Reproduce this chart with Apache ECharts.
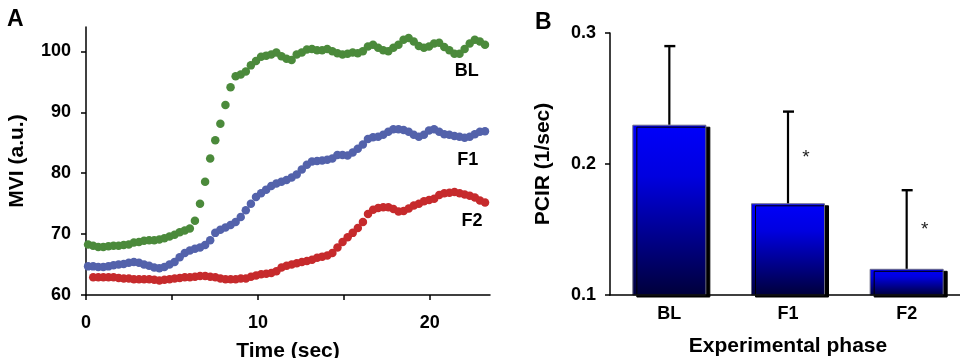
<!DOCTYPE html>
<html>
<head>
<meta charset="utf-8">
<script src="https://cdn.jsdelivr.net/npm/echarts@6/dist/echarts.min.js"></script>
<style>
  html, body { margin: 0; padding: 0; background: #fff; }
  #chart { width: 960px; height: 358px; }
</style>
</head>
<body>
<div id="chart"></div>
<script>
// ---- Panel A: microvascular intensity over time (one sample every ~0.296 s) ----
const sampleInterval = 0.296;
const startTimeBL = 0.12;
const startTimeF1 = 0.12;
const startTimeF2 = 0.42;

const mviBL = [
  68.3, 68.1, 67.9, 67.9, 68.0, 68.1, 68.1, 68.2, 68.3, 68.6,
  68.7, 68.9, 69.0, 69.0, 69.1, 69.3, 69.6, 69.9, 70.3, 70.6,
  70.9, 72.2, 75.0, 78.6, 82.4, 85.4, 88.1, 91.2, 94.1, 95.9,
  96.2, 96.7, 97.7, 98.4, 99.1, 99.3, 99.5, 99.8, 99.2, 98.8,
  98.6, 99.5, 99.8, 100.3, 100.4, 100.2, 100.2, 100.4, 100.0, 99.7,
  99.5, 99.6, 99.8, 99.7, 100.0, 100.8, 101.1, 100.6, 100.2, 100.0,
  100.6, 101.1, 101.9, 102.2, 101.6, 100.9, 100.6, 100.8, 101.3, 101.4,
  100.7, 100.2, 99.6, 99.6, 100.4, 101.3, 101.9, 101.6, 101.1
];
const mviF1 = [
  64.7, 64.7, 64.6, 64.6, 64.7, 64.9, 65.0, 65.1, 65.3, 65.4,
  65.3, 65.0, 64.8, 64.5, 64.4, 64.6, 65.0, 65.4, 66.2, 66.9,
  67.3, 67.6, 67.8, 68.2, 69.0, 70.2, 70.7, 71.1, 71.5, 72.0,
  72.8, 73.9, 75.0, 76.1, 76.7, 77.3, 77.9, 78.3, 78.6, 78.9,
  79.3, 79.8, 80.6, 81.4, 81.9, 82.0, 82.1, 82.2, 82.4, 83.0,
  83.0, 82.9, 83.4, 84.0, 84.7, 85.6, 85.9, 86.0, 86.3, 86.8,
  87.2, 87.2, 87.1, 86.8, 86.3, 86.0, 86.3, 87.0, 87.2, 86.8,
  86.4, 86.3, 86.1, 86.0, 85.8, 86.0, 86.4, 86.8, 86.9
];
const mviF2 = [
  62.9, 62.9, 62.9, 62.9, 62.9, 62.8, 62.7, 62.7, 62.6, 62.6,
  62.6, 62.6, 62.5, 62.4, 62.5, 62.6, 62.7, 62.8, 62.9, 62.9,
  63.0, 63.1, 63.1, 63.0, 62.9, 62.7, 62.6, 62.6, 62.6, 62.7,
  62.7, 63.0, 63.2, 63.4, 63.5, 63.6, 63.9, 64.5, 64.8, 65.0,
  65.2, 65.4, 65.6, 65.8, 66.1, 66.3, 66.5, 66.9, 67.8, 68.7,
  69.5, 70.2, 71.0, 72.0, 73.3, 74.0, 74.3, 74.4, 74.4, 74.1,
  73.7, 73.8, 74.2, 74.7, 75.0, 75.4, 75.6, 75.8, 76.4, 76.7,
  76.8, 76.9, 76.7, 76.5, 76.3, 76.0, 75.5, 75.2
];
const timeTicks = [0, 5, 10, 15, 20];
const timeLabels = [0, 10, 20];
const mviTicks = [60, 70, 80, 90, 100];

// Curve names and where their tags sit (time, MVI)
const curveNames = ['BL', 'F1', 'F2'];
const curveTagAt = [[22.15, 96.8], [22.2, 82.1], [22.45, 72.1]];

// ---- Panel B: PCIR per experimental phase ----
const phases = ['BL', 'F1', 'F2'];
const pcirMean = [0.23, 0.17, 0.12];
const pcirSD = [0.06, 0.07, 0.06];
const significance = ['', '*', '*'];

const FONT = '"Liberation Sans", Arial, Helvetica, sans-serif';
const colors = ['#4b8a3b', '#5362ab', '#c62a2c'];

function toPairs(start, values) {
  return values.map((v, i) => [start + i * sampleInterval, v]);
}

const curves = [
  toPairs(startTimeBL, mviBL),
  toPairs(startTimeF1, mviF1),
  toPairs(startTimeF2, mviF2)
];

const axisLine = { show: true, lineStyle: { color: '#000', width: 1.5 } };
const tickFont = { fontFamily: FONT, fontWeight: 'bold', fontSize: 18, color: '#000' };
const titleFont = { fontFamily: FONT, fontWeight: 'bold', fontSize: 21, color: '#000' };

const scatterSeries = curves.map((data, k) => ({
  type: 'scatter',
  xAxisIndex: 0,
  yAxisIndex: 0,
  data: data,
  symbol: 'circle',
  symbolSize: 8.5,
  itemStyle: { color: colors[k], opacity: 1 },
  z: 3 - k,
  markPoint: {
    symbol: 'circle',
    symbolSize: 0,
    silent: true,
    label: {
      show: true,
      position: 'inside',
      formatter: curveNames[k],
      fontFamily: FONT, fontWeight: 'bold', fontSize: 18, color: '#000'
    },
    data: [{ coord: curveTagAt[k] }]
  }
}));

const errorData = phases.map((p, i) => [i, pcirMean[i], pcirMean[i] + pcirSD[i]]);

const option = {
  animation: false,
  backgroundColor: '#fff',
  title: [
    { text: 'A', left: 2, top: 3, textStyle: { fontFamily: FONT, fontWeight: 'bold', fontSize: 23, color: '#000' } },
    { text: 'B', left: 530, top: 6, textStyle: { fontFamily: FONT, fontWeight: 'bold', fontSize: 23, color: '#000' } }
  ],
  grid: [
    { left: 86, top: 27, width: 404, height: 268, outerBoundsMode: 'none', containLabel: false },
    { left: 610, top: 33, width: 356, height: 262, outerBoundsMode: 'none', containLabel: false }
  ],
  xAxis: [
    {
      type: 'value', gridIndex: 0, min: 0, max: 23.5,
      name: 'Time (sec)', nameLocation: 'middle', nameGap: 46, nameTextStyle: titleFont,
      axisLine: axisLine,
      axisTick: { show: true, inside: false, length: 5, customValues: timeTicks, lineStyle: { color: '#000', width: 1.5 } },
      axisLabel: Object.assign({ margin: 19, customValues: timeLabels }, tickFont),
      splitLine: { show: false }
    },
    {
      type: 'category', gridIndex: 1, data: phases,
      name: 'Experimental phase', nameLocation: 'middle', nameGap: 41, nameTextStyle: titleFont,
      axisLine: axisLine,
      axisTick: { show: false },
      axisLabel: Object.assign({ margin: 10 }, tickFont),
      z: 5
    }
  ],
  yAxis: [
    {
      type: 'value', gridIndex: 0, min: 60, max: 104,
      name: 'MVI (a.u.)', nameLocation: 'middle', nameGap: 58, nameTextStyle: titleFont,
      axisLine: axisLine,
      axisTick: { show: true, inside: false, length: 5, customValues: mviTicks, lineStyle: { color: '#000', width: 1.5 } },
      axisLabel: Object.assign({ margin: 15, customValues: mviTicks }, tickFont),
      splitLine: { show: false }
    },
    {
      type: 'value', gridIndex: 1, min: 0.1, max: 0.3, interval: 0.1,
      name: 'PCIR (1/sec)', nameLocation: 'middle', nameGap: 56, nameTextStyle: titleFont,
      axisLine: axisLine,
      axisTick: { show: true, inside: false, length: 5, lineStyle: { color: '#000', width: 1.5 } },
      axisLabel: Object.assign({ margin: 14, formatter: v => v.toFixed(1) }, tickFont),
      splitLine: { show: false }
    }
  ],
  series: scatterSeries.concat([
    {
      type: 'bar',
      xAxisIndex: 1,
      yAxisIndex: 1,
      data: pcirMean,
      barWidth: 74,
      itemStyle: {
        color: {
          type: 'linear', x: 0, y: 0, x2: 0, y2: 1,
          colorStops: [
            { offset: 0, color: '#0000fa' },
            { offset: 0.3, color: '#0000e0' },
            { offset: 1, color: '#00003a' }
          ]
        },
        borderColor: '#6b6b80',
        borderWidth: 1,
        shadowColor: '#000',
        shadowOffsetX: 4,
        shadowOffsetY: 2,
        shadowBlur: 0
      },
      z: 2
    },
    {
      type: 'custom',
      xAxisIndex: 1,
      yAxisIndex: 1,
      data: errorData,
      z: 4,
      renderItem: function (params, api) {
        const idx = api.value(0);
        const base = api.coord([idx, api.value(1)]);
        const top = api.coord([idx, api.value(2)]);
        const mark = significance[idx];
        const children = [
          { type: 'line', shape: { x1: base[0], y1: base[1], x2: top[0], y2: top[1] }, style: { stroke: '#000', lineWidth: 2.2 } },
          { type: 'line', shape: { x1: top[0] - 5, y1: top[1], x2: top[0] + 6, y2: top[1] }, style: { stroke: '#000', lineWidth: 2.4 } }
        ];
        if (mark) {
          children.push({
            type: 'text',
            style: {
              text: mark, x: base[0] + 18, y: (base[1] + top[1]) / 2,
              align: 'center', verticalAlign: 'middle',
              font: '19px ' + FONT, fill: '#222'
            }
          });
        }
        return { type: 'group', children: children };
      }
    }
  ])
};

const chart = echarts.init(document.getElementById('chart'), null, { renderer: 'canvas' });
chart.setOption(option);
</script>
</body>
</html>
